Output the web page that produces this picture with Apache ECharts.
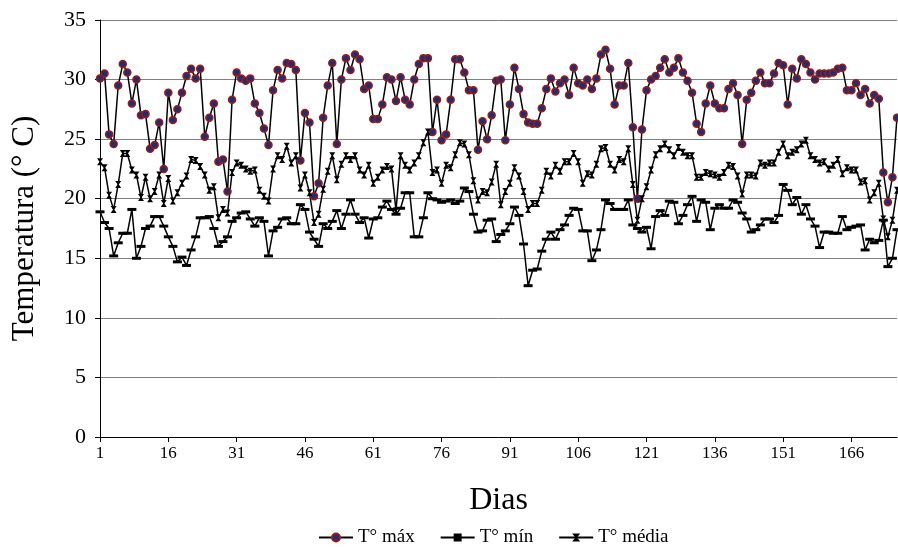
<!DOCTYPE html>
<html style="height: 100%">
<head>
    <meta charset="utf-8">
    <script type="text/javascript" src="https://cdn.jsdelivr.net/npm/echarts@6/dist/echarts.min.js"></script>
</head>
<body style="height: 100%; margin: 0; background: #fff">
<div id="container" style="width: 898px; height: 547px"></div>
<script type="text/javascript">
    // dias 1..176
    var dias = [];
    for (var i = 1; i <= 176; i++) dias.push(String(i));

    var tMax = [
        30.1, 30.5, 25.4, 24.6, 29.5, 31.3, 30.6, 28.0, 30.0, 27.0,
        27.1, 24.2, 24.5, 26.4, 22.5, 28.9, 26.6, 27.5, 28.9, 30.3,
        30.9, 30.1, 30.9, 25.2, 26.8, 28.0, 23.1, 23.3, 20.6, 28.3,
        30.6, 30.1, 29.9, 30.1, 28.0, 27.2, 25.9, 24.5, 29.1, 30.8,
        30.1, 31.4, 31.3, 30.8, 23.2, 27.2, 26.4, 20.2, 21.3, 26.8,
        29.5, 31.4, 24.6, 30.0, 31.8, 30.8, 32.1, 31.7, 29.2, 29.5,
        26.7, 26.7, 27.9, 30.2, 30.0, 28.2, 30.2, 28.3, 27.9, 30.0,
        31.3, 31.8, 31.8, 25.6, 28.3, 24.9, 25.4, 28.3, 31.7, 31.7,
        30.6, 29.1, 29.1, 24.1, 26.5, 25.0, 27.0, 29.9, 30.0, 24.9,
        27.9, 31.0, 29.2, 27.1, 26.4, 26.3, 26.3, 27.6, 29.2, 30.1,
        29.0, 29.7, 30.0, 28.7, 31.0, 29.7, 29.5, 30.0, 29.2, 30.1,
        32.1, 32.5, 30.9, 27.9, 29.5, 29.5, 31.4, 26.0, 20.0, 25.8,
        29.1, 30.0, 30.3, 31.0, 31.7, 30.6, 31.0, 31.8, 30.6, 29.9,
        28.9, 26.3, 25.6, 28.0, 29.5, 28.0, 27.6, 27.6, 29.2, 29.7,
        28.7, 24.6, 28.3, 28.9, 29.9, 30.6, 29.7, 29.7, 30.5, 31.4,
        31.2, 27.9, 30.9, 30.1, 31.7, 31.3, 30.6, 30.0, 30.5, 30.5,
        30.5, 30.6, 30.9, 31.0, 29.1, 29.1, 29.7, 28.7, 29.2, 28.0,
        28.7, 28.4, 22.2, 19.7, 21.8, 26.8
    ];

    var tMin = [
        18.9, 18.0, 17.5, 15.2, 16.3, 17.1, 17.1, 19.1, 15.0, 16.0,
        17.5, 17.7, 18.5, 18.5, 17.7, 16.8, 16.0, 14.7, 15.1, 14.4,
        15.7, 16.8, 18.4, 18.4, 18.5, 17.5, 16.0, 16.4, 16.8, 18.1,
        18.4, 18.8, 18.9, 18.3, 17.7, 18.4, 18.1, 15.2, 17.3, 17.6,
        18.3, 18.4, 17.9, 17.9, 19.5, 19.1, 17.2, 16.6, 16.0, 17.9,
        17.5, 18.1, 19.0, 17.5, 18.7, 19.9, 18.7, 18.0, 18.4, 16.7,
        18.3, 18.4, 19.3, 19.8, 19.1, 18.7, 19.2, 20.5, 20.5, 16.8,
        16.8, 18.4, 20.5, 20.0, 19.9, 19.7, 19.8, 19.9, 19.6, 19.8,
        20.9, 20.6, 18.7, 17.2, 17.3, 18.2, 18.3, 16.4, 17.0, 17.3,
        17.9, 19.3, 18.6, 16.2, 12.7, 14.0, 14.1, 15.6, 16.6, 17.2,
        16.6, 17.4, 17.8, 18.6, 19.2, 19.1, 17.3, 17.3, 14.8, 15.7,
        17.4, 19.9, 19.6, 19.1, 19.1, 19.1, 19.9, 17.8, 17.5, 17.2,
        17.6, 15.8, 18.5, 19.0, 18.6, 19.8, 19.7, 17.9, 18.6, 19.5,
        20.2, 18.1, 19.9, 19.7, 17.4, 19.2, 19.5, 19.2, 19.2, 19.9,
        19.7, 18.8, 18.3, 17.2, 17.4, 17.8, 18.3, 18.3, 18.0, 18.6,
        21.2, 20.7, 19.5, 20.1, 18.7, 19.5, 18.3, 17.7, 15.9, 17.2,
        17.2, 17.1, 17.1, 18.5, 17.4, 17.6, 17.7, 17.8, 15.7, 16.6,
        16.3, 16.5, 18.2, 14.3, 15.0, 17.4
    ];

    var tMedia = [
        23.1, 22.6, 20.3, 19.1, 21.2, 23.8, 23.8, 22.4, 22.0, 20.1,
        21.8, 20.0, 20.6, 22.0, 19.6, 21.7, 19.8, 20.5, 21.3, 21.9,
        23.3, 23.2, 22.7, 22.0, 20.7, 21.0, 18.4, 19.1, 18.8, 22.2,
        23.0, 22.8, 22.5, 22.3, 22.4, 20.7, 20.2, 19.8, 22.5, 23.6,
        23.3, 24.4, 23.0, 23.6, 20.9, 22.0, 20.5, 18.0, 18.7, 20.8,
        22.3, 23.6, 21.6, 22.9, 23.6, 23.3, 23.6, 22.4, 22.0, 22.8,
        21.3, 21.8, 22.4, 22.7, 22.5, 19.0, 23.6, 22.8, 22.4, 23.0,
        23.6, 24.7, 25.6, 22.2, 22.4, 21.3, 22.8, 22.6, 23.7, 24.7,
        24.6, 23.7, 21.5, 19.9, 20.6, 20.5, 21.4, 22.9, 19.5, 20.6,
        21.3, 22.6, 21.9, 20.6, 19.1, 19.6, 19.6, 20.7, 22.3, 21.9,
        22.8, 22.3, 23.1, 23.1, 23.8, 23.1, 21.3, 22.1, 22.0, 22.9,
        24.2, 24.3, 22.9, 22.4, 23.3, 23.1, 24.2, 21.2, 18.2, 20.0,
        21.0, 22.4, 23.7, 24.2, 24.6, 24.1, 23.6, 24.3, 23.9, 23.6,
        23.6, 21.8, 21.8, 22.2, 22.1, 22.0, 21.8, 22.2, 22.8, 22.7,
        21.9, 20.4, 22.0, 22.0, 21.9, 23.0, 22.8, 23.0, 23.0, 23.9,
        24.6, 23.6, 23.9, 24.1, 24.6, 24.9, 23.6, 23.3, 23.0, 23.1,
        22.5, 22.8, 23.3, 22.1, 22.6, 22.4, 22.4, 21.4, 21.5, 19.9,
        20.5, 21.3, 18.3, 16.8, 18.2, 20.7
    ];

    var serif = 'Liberation Serif';
    var myChart = echarts.init(document.getElementById('container'));

    var option = {
        animation: false,
        backgroundColor: '#fff',
        grid: { left: 100, right: 1, top: 20, bottom: 110 },
        legend: {
            bottom: 0,
            left: 318,
            padding: 0,
            itemWidth: 34,
            itemHeight: 10,
            itemGap: 25,
            textStyle: { fontFamily: serif, fontSize: 19, color: '#000' },
            data: ['T° máx', 'T° mín', 'T° média']
        },
        xAxis: {
            type: 'category',
            data: dias,
            boundaryGap: false,
            name: 'Dias',
            nameLocation: 'middle',
            nameGap: 48,
            nameTextStyle: { fontFamily: serif, fontSize: 32, color: '#000' },
            axisLine: { lineStyle: { color: '#000', width: 1 } },
            axisTick: { interval: 14, length: 5, lineStyle: { color: '#000' } },
            axisLabel: { interval: 14, margin: 8, fontFamily: serif, fontSize: 17, color: '#000' },
            splitLine: { show: false }
        },
        yAxis: {
            type: 'value',
            min: 0,
            max: 35,
            interval: 5,
            name: 'Temperatura (° C)',
            nameLocation: 'middle',
            nameGap: 60,
            nameTextStyle: { fontFamily: serif, fontSize: 31, color: '#000' },
            axisLine: { show: true, lineStyle: { color: '#000', width: 1 } },
            axisTick: { show: true, length: 5, lineStyle: { color: '#000' } },
            axisLabel: { margin: 14, fontFamily: serif, fontSize: 22, color: '#000' },
            splitLine: { lineStyle: { color: '#808080', width: 1 } }
        },
        series: [
            {
                name: 'T° máx',
                type: 'line',
                data: tMax,
                symbol: 'circle',
                symbolSize: 7,
                showAllSymbol: true,
                itemStyle: { color: '#1f2f6e', borderColor: '#9b1b1b', borderWidth: 1.5 },
                lineStyle: { color: '#000', width: 1.5 },
                z: 3
            },
            {
                name: 'T° mín',
                type: 'line',
                data: tMin,
                symbol: 'rect',
                symbolSize: [9, 3],
                showAllSymbol: true,
                itemStyle: { color: '#000' },
                lineStyle: { color: '#000', width: 1.5 }
            },
            {
                name: 'T° média',
                type: 'line',
                data: tMedia,
                symbol: 'path://M0,0L10,0L6,5L10,10L0,10L4,5Z',
                symbolSize: [6, 7],
                showAllSymbol: true,
                itemStyle: { color: '#000' },
                lineStyle: { color: '#000', width: 1.5 }
            }
        ]
    };
    myChart.setOption(option);
</script>
</body>
</html>
